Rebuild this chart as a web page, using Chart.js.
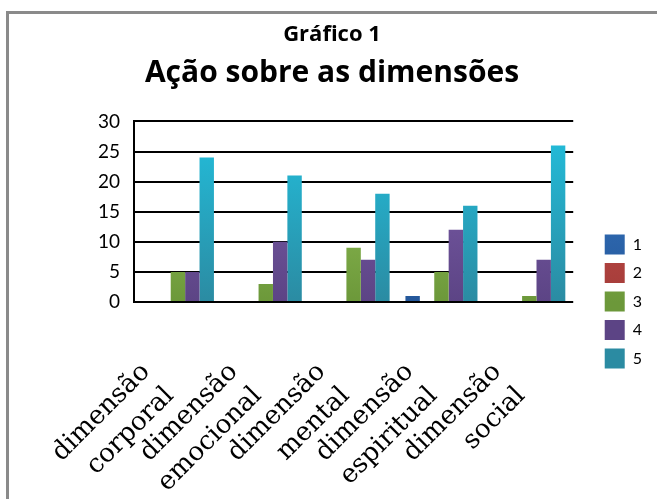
<!DOCTYPE html>
<html>
<head>
<meta charset="utf-8">
<script src="https://cdn.jsdelivr.net/npm/chart.js@4"></script>
<style>
  body { margin: 0; background: #fff; }
  #frame { position: absolute; left: 6px; top: 11px; width: 700px; height: 600px; border: 3px solid #8a8a8a; }
  #myChart { position: absolute; left: 0; top: 0; }
</style>
</head>
<body>
<div id="frame"></div>
<canvas id="myChart" width="657" height="499"></canvas>
<script>
var labels = [
  ['dimensão', 'corporal'],
  ['dimensão', 'emocional'],
  ['dimensão', 'mental'],
  ['dimensão', 'espiritual'],
  ['dimensão', 'social']
]
var serie1 = [0, 0, 0, 1, 0]
var serie2 = [0, 0, 0, 0, 0]
var serie3 = [5, 3, 9, 5, 1]
var serie4 = [5, 10, 7, 12, 7]
var serie5 = [24, 21, 18, 16, 26]
var yTicks = [0, 5, 10, 15, 20, 25, 30]

// top colour, bottom colour (excel style gradient)
function grad(top, bottom) {
  return function (c) {
    var area = c.chart.chartArea
    if (!area) return top
    var g = c.chart.ctx.createLinearGradient(0, area.top, 0, area.bottom)
    g.addColorStop(0, top)
    g.addColorStop(1, bottom)
    return g
  }
}

function bars(label, data, top, bottom) {
  return {
    label: label,
    data: data,
    backgroundColor: grad(top, bottom),
    borderWidth: 0,
    categoryPercentage: 0.82,
    barPercentage: 1
  }
}

var ctx = document.getElementById('myChart').getContext('2d')
var myChart = new Chart(ctx, {
  type: 'bar',
  data: {
    labels: labels,
    datasets: [
      bars('1', serie1, '#3a7cc8', '#24579a'),
      bars('2', serie2, '#d4524e', '#a33c39'),
      bars('3', serie3, '#9ccb5e', '#6c983a'),
      bars('4', serie4, '#8262b0', '#5c4485'),
      bars('5', serie5, '#22c0de', '#2b8ba2')
    ]
  },
  options: {
    responsive: false,
    animation: false,
    devicePixelRatio: 1,
    layout: { padding: { left: 12, right: 5, bottom: 0 } },
    plugins: {
      title: {
        display: true,
        text: 'Gráfico 1',
        color: '#000',
        font: { family: 'Open Sans', size: 22, weight: 'bold' },
        padding: { top: 22, bottom: 7 }
      },
      subtitle: {
        display: true,
        text: 'Ação sobre as dimensões',
        color: '#000',
        font: { family: 'Open Sans', size: 30, weight: 'bold' },
        padding: { top: 0, bottom: 30 }
      },
      legend: {
        position: 'right',
        // empty title only pushes the items down
        title: { display: true, text: '', font: { size: 10 }, padding: { top: 0, bottom: 92 } },
        labels: {
          color: '#000',
          font: { family: 'Lato', size: 16 },
          boxWidth: 20,
          boxHeight: 20,
          padding: 8.5
        }
      },
      tooltip: { enabled: false }
    },
    scales: {
      x: {
        grid: { display: false },
        border: { display: false },
        ticks: {
          color: '#000',
          font: { family: 'DejaVu Serif', size: 26, lineHeight: 1.3 },
          maxRotation: 45,
          minRotation: 45,
          padding: 46,
          labelOffset: -32,
          autoSkip: false
        },
        afterFit: function (s) { s.height = 197 }
      },
      y: {
        min: 0,
        max: 30,
        afterBuildTicks: function (s) { s.ticks = yTicks.map(v => ({ value: v })) },
        grid: { color: '#000', lineWidth: 2, drawTicks: false },
        border: { color: '#000', width: 2 },
        ticks: {
          color: '#000',
          font: { family: 'Lato', size: 19 },
          padding: 14
        },
        afterFit: function (s) { s.width = 122 }
      },
      gap: {
        position: 'right',
        display: true,
        grid: { display: false },
        border: { display: false },
        ticks: { display: false },
        afterFit: function (s) { s.width = 23 }
      }
    }
  }
})
</script>
</body>
</html>
